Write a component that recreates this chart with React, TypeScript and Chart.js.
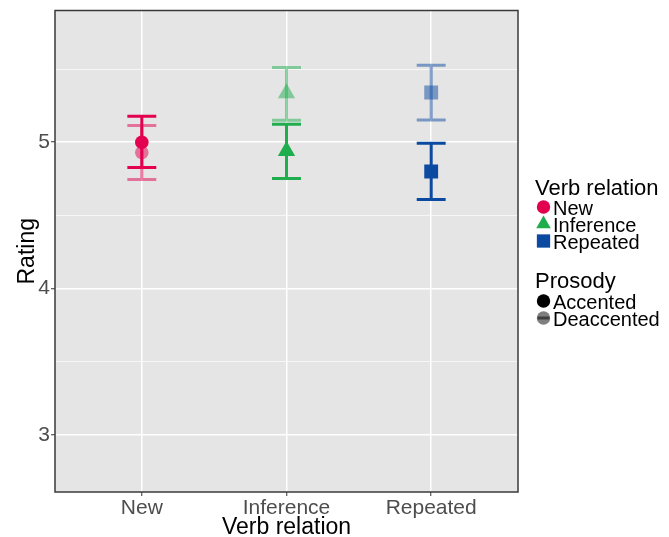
import React, { useEffect, useRef } from 'react';
import { Chart, registerables } from 'chart.js';
Chart.register(...registerables);

const categories = ['New', 'Inference', 'Repeated'];
const prosodyLevels = ['Accented', 'Deaccented'];
const accentedMean = [5.0, 4.94, 4.8];
const accentedLower = [4.827, 4.752, 4.609];
const accentedUpper = [5.177, 5.123, 4.993];
const deaccentedMean = [4.93, 5.335, 5.34];
const deaccentedLower = [4.745, 5.15, 5.152];
const deaccentedUpper = [5.114, 5.51, 5.526];
const yTickValues = [3, 3.5, 4, 4.5, 5, 5.5];

const colors = ['#e2004f', '#1fad4e', '#0b4aa0'];
const pointStyles = ['circle', 'triangle', 'rect'];
const pointRadii = [6.8, 10, 9.8];
const deaccentedAlpha = 0.5;

const FONT = '"Liberation Sans", Arial, Helvetica, sans-serif';

function withAlpha(hex: string, a: number) {
  const r = parseInt(hex.slice(1, 3), 16);
  const g = parseInt(hex.slice(3, 5), 16);
  const b = parseInt(hex.slice(5, 7), 16);
  return `rgba(${r},${g},${b},${a})`;
}

function drawShape(ctx: CanvasRenderingContext2D, style: string, x: number, y: number, r: number) {
  ctx.beginPath();
  if (style === 'circle') {
    ctx.arc(x, y, r, 0, Math.PI * 2);
  } else if (style === 'triangle') {
    let rad = 0;
    ctx.moveTo(x + Math.sin(rad) * r, y - Math.cos(rad) * r);
    rad += (2 * Math.PI) / 3;
    ctx.lineTo(x + Math.sin(rad) * r, y - Math.cos(rad) * r);
    rad += (2 * Math.PI) / 3;
    ctx.lineTo(x + Math.sin(rad) * r, y - Math.cos(rad) * r);
    ctx.closePath();
  } else {
    const s = r * Math.SQRT1_2;
    ctx.rect(x - s, y - s, 2 * s, 2 * s);
  }
  ctx.fill();
}

const backgroundPlugin = {
  id: 'panelBackground',
  beforeDraw(chart: any) {
    const { ctx, chartArea } = chart;
    ctx.save();
    ctx.fillStyle = '#e5e5e5';
    ctx.fillRect(chartArea.left, chartArea.top, chartArea.right - chartArea.left, chartArea.bottom - chartArea.top);
    ctx.restore();
  },
};

const errorBarPlugin = {
  id: 'errorBars',
  beforeDatasetsDraw(chart: any) {
    const { ctx, chartArea } = chart;
    const xs = chart.scales.x;
    const ys = chart.scales.y;
    const groups = [
      { lo: deaccentedLower, hi: deaccentedUpper, a: deaccentedAlpha },
      { lo: accentedLower, hi: accentedUpper, a: 1 },
    ];
    ctx.save();
    ctx.beginPath();
    ctx.rect(chartArea.left, chartArea.top, chartArea.right - chartArea.left, chartArea.bottom - chartArea.top);
    ctx.clip();
    ctx.lineWidth = 3;
    ctx.lineCap = 'butt';
    ctx.lineJoin = 'miter';
    groups.forEach((g) => {
      categories.forEach((_, i) => {
        const xc = xs.getPixelForValue(i + 1);
        const xl = xs.getPixelForValue(i + 1 - 0.1);
        const xr = xs.getPixelForValue(i + 1 + 0.1);
        const yl = ys.getPixelForValue(g.lo[i]);
        const yh = ys.getPixelForValue(g.hi[i]);
        ctx.strokeStyle = withAlpha(colors[i], g.a);
        ctx.beginPath();
        ctx.moveTo(xl, yh);
        ctx.lineTo(xr, yh);
        ctx.moveTo(xc, yh);
        ctx.lineTo(xc, yl);
        ctx.moveTo(xl, yl);
        ctx.lineTo(xr, yl);
        ctx.stroke();
      });
    });
    ctx.restore();
  },
};

const overlayPlugin = {
  id: 'overlay',
  afterDraw(chart: any) {
    const { ctx, chartArea } = chart;
    ctx.save();
    // panel border
    ctx.strokeStyle = '#3a3a3a';
    ctx.lineWidth = 1.5;
    ctx.strokeRect(chartArea.left, chartArea.top, chartArea.right - chartArea.left, chartArea.bottom - chartArea.top);

    // legend
    const lx = 535;
    const kx = 543.5;
    const tx = 553;
    ctx.textAlign = 'left';
    ctx.textBaseline = 'alphabetic';
    ctx.fillStyle = '#000';
    ctx.font = `22px ${FONT}`;
    ctx.fillText('Verb relation', lx, 195);
    categories.forEach((c, i) => {
      const ky = 207 + 17 * i;
      ctx.fillStyle = colors[i];
      drawShape(ctx, pointStyles[i], kx, ky, i === 0 ? 6.7 : i === 1 ? 8.4 : 9.4);
      ctx.fillStyle = '#000';
      ctx.font = `20px ${FONT}`;
      ctx.fillText(c, tx, ky + 7.5);
    });
    ctx.font = `22px ${FONT}`;
    ctx.fillStyle = '#000';
    ctx.fillText('Prosody', lx, 288);
    prosodyLevels.forEach((p, i) => {
      const ky = 301 + 17 * i;
      const a = i === 0 ? 1 : deaccentedAlpha;
      ctx.fillStyle = `rgba(0,0,0,${a})`;
      drawShape(ctx, 'circle', kx, ky, 6.7);
      ctx.strokeStyle = `rgba(0,0,0,${a})`;
      ctx.lineWidth = 3;
      ctx.beginPath();
      ctx.moveTo(kx - 6, ky);
      ctx.lineTo(kx + 6, ky);
      ctx.stroke();
      ctx.fillStyle = '#000';
      ctx.font = `20px ${FONT}`;
      ctx.fillText(p, tx, ky + 7.5);
    });
    ctx.restore();
  },
};

export default function App() {
  const ref = useRef<HTMLCanvasElement>(null);
  useEffect(() => {
    const canvas = ref.current as HTMLCanvasElement;
    const chart = new Chart(canvas, {
      type: 'scatter',
      data: {
        datasets: [
          {
            label: prosodyLevels[0],
            data: accentedMean.map((v, i) => ({ x: i + 1, y: v })),
            pointStyle: pointStyles as any,
            pointRadius: pointRadii,
            pointBackgroundColor: colors,
            pointBorderWidth: 0,
            pointBorderColor: 'rgba(0,0,0,0)',
          },
          {
            label: prosodyLevels[1],
            data: deaccentedMean.map((v, i) => ({ x: i + 1, y: v })),
            pointStyle: pointStyles as any,
            pointRadius: pointRadii,
            pointBackgroundColor: colors.map((c) => withAlpha(c, deaccentedAlpha)),
            pointBorderWidth: 0,
            pointBorderColor: 'rgba(0,0,0,0)',
          },
        ],
      },
      options: {
        responsive: false,
        animation: false,
        events: [],
        layout: { padding: { top: 10.5, right: 151, left: 0, bottom: 0 } },
        plugins: { legend: { display: false }, tooltip: { enabled: false } },
        scales: {
          x: {
            type: 'linear',
            min: 0.4,
            max: 3.6,
            afterBuildTicks: (s: any) => {
              s.ticks = categories.map((_, i) => ({ value: i + 1 }));
            },
            afterFit: (s: any) => {
              s.height = 45;
              s.paddingLeft = 0;
              s.paddingRight = 0;
            },
            ticks: {
              callback: (v: any) => categories[Number(v) - 1] ?? '',
              font: { family: FONT, size: 21 },
              color: '#4d4d4d',
              padding: 0,
              maxRotation: 0,
              autoSkip: false,
            },
            grid: { color: '#ffffff', lineWidth: 1.5, tickLength: 4, tickColor: '#333333', tickWidth: 1 },
            border: { display: false },
            title: {
              display: true,
              text: 'Verb relation',
              color: '#000',
              font: { family: FONT, size: 23 },
              padding: { top: 0, bottom: -4 },
            },
          },
          y: {
            type: 'linear',
            min: 2.61,
            max: 5.9,
            afterBuildTicks: (s: any) => {
              s.ticks = yTickValues.map((v) => ({ value: v }));
            },
            afterFit: (s: any) => {
              s.width = 55;
              s.paddingTop = 0;
              s.paddingBottom = 0;
            },
            ticks: {
              callback: (v: any) => (Number(v) % 1 === 0 ? String(v) : ''),
              font: { family: FONT, size: 21 },
              color: '#4d4d4d',
              padding: 1,
              autoSkip: false,
            },
            grid: {
              color: '#ffffff',
              lineWidth: (c: any) => (c.tick && c.tick.value % 1 === 0 ? 1.5 : 0.7),
              tickLength: 4,
              tickColor: (c: any) => (c.tick && c.tick.value % 1 === 0 ? '#333333' : 'rgba(0,0,0,0)'),
              tickWidth: 1,
            },
            border: { display: false },
            title: {
              display: true,
              text: 'Rating',
              color: '#000',
              font: { family: FONT, size: 23 },
              padding: { top: 14, bottom: 0 },
            },
          },
        },
      } as any,
      plugins: [backgroundPlugin, errorBarPlugin, overlayPlugin],
    });
    return () => chart.destroy();
  }, []);
  return (
    <div style={{ position: 'fixed', left: 0, top: 0, width: 669, height: 537, background: '#fff' }}>
      <canvas ref={ref} width={669} height={537} style={{ display: 'block', width: 669, height: 537 }} />
    </div>
  );
}
